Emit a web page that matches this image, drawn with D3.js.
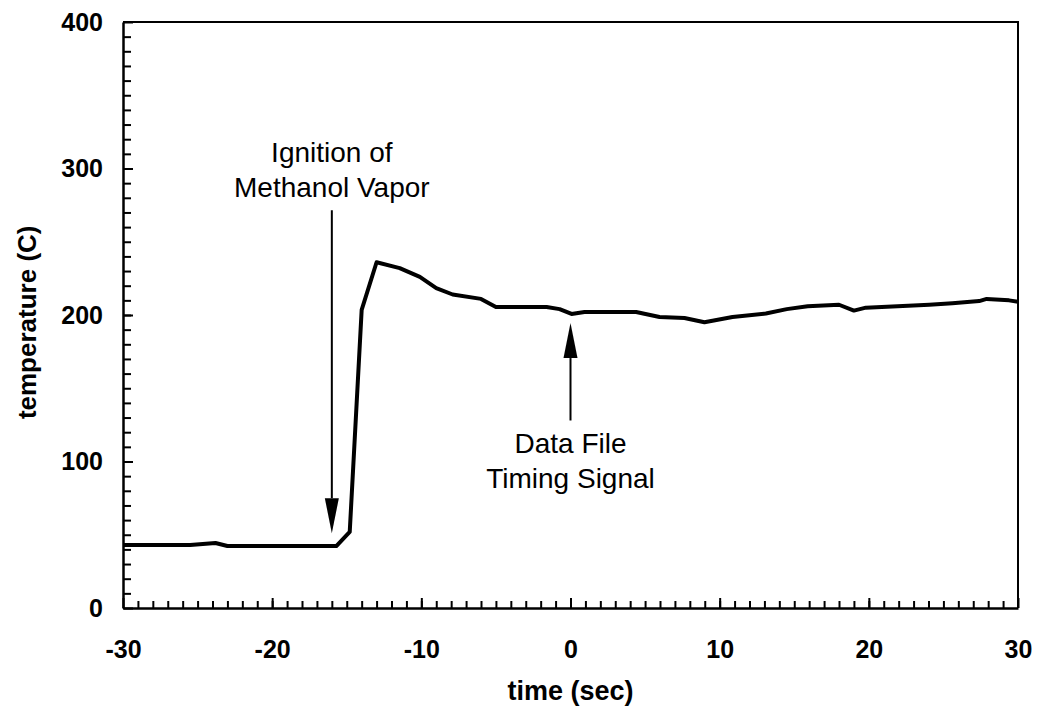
<!DOCTYPE html>
<html lang="en">
  <head>
    <meta charset="utf-8">
    <title>Temperature vs time</title>
    <script src="https://d3js.org/d3.v7.min.js"></script>
    <style>
      body { margin: 0; background: #fff; }
      text { font-family: "Liberation Sans", Arial, sans-serif; fill: #000; }
    </style>
  </head>
<body>

<script>
// data
var times = [-30, -25.5, -23.8, -23, -15.7, -14.8, -14, -13, -11.45, -10.1, -9, -7.9, -6, -5, -1.6, -0.73,
             0.07, 0.94, 4.4, 5.97, 7.64, 8.98, 10.86, 13.1, 14.5, 15.9, 18, 19, 19.8, 24.05, 25.6, 27.4,
             27.9, 29.4, 30];
var temps = [43, 43, 44.4, 42.3, 42.3, 52, 203.5, 236, 232, 226, 218.4, 214, 211, 205.5, 205.5, 204,
             200.7, 202, 202, 198.6, 198, 195, 198.6, 201, 204, 206, 207, 203, 205, 207, 208, 209.5,
             211, 210, 209];
var xTicks = [-30, -20, -10, 0, 10, 20, 30];
var yTicks = [0, 100, 200, 300, 400];
var notes = [
    {lines: ["Ignition of", "Methanol Vapor"], t: -16, from: 271.5, to: 51},
    {lines: ["Data File", "Timing Signal"], t: 0, from: 128, to: 194.5}
];

var W = 1040, H = 711;
var m = {left: 123, right: 22, top: 22, bottom: 103};

var svg = d3.select("body").append("svg")
    .attr("width", W)
    .attr("height", H);

var x = d3.scaleLinear().domain([-30, 30]).range([m.left, W - m.right]);
var y = d3.scaleLinear().domain([0, 400]).range([H - m.bottom, m.top]);

// frame (top and right)
svg.append("path")
    .attr("d", `M${x(-30)},${y(400)}H${x(30)}V${y(0)}`)
    .attr("fill", "none")
    .attr("stroke", "#000")
    .attr("stroke-width", 2);

// minor ticks
svg.append("g")
    .attr("transform", `translate(0,${y(0)})`)
    .call(d3.axisBottom(x).tickValues(d3.range(-29, 30, 1)).tickSize(-7).tickFormat(""))
    .call(g => g.select(".domain").remove())
    .call(g => g.selectAll("line").attr("stroke-width", 2));

svg.append("g")
    .attr("transform", `translate(${x(-30)},0)`)
    .call(d3.axisLeft(y).tickValues(d3.range(10, 400, 10)).tickSize(-8).tickFormat(""))
    .call(g => g.select(".domain").remove())
    .call(g => g.selectAll("line").attr("stroke-width", 2));

// major axes with labels (plain hyphen for negatives)
svg.append("g")
    .attr("transform", `translate(0,${y(0)})`)
    .call(d3.axisBottom(x).tickValues(xTicks).tickSize(-10).tickSizeOuter(0).tickPadding(32)
        .tickFormat(d => String(d)))
    .call(g => g.select(".domain").attr("stroke-width", 2.5))
    .call(g => g.selectAll("line").attr("stroke-width", 2))
    .call(g => g.selectAll("text").attr("font-size", 25).attr("font-weight", "bold")
        .attr("font-family", "Liberation Sans, Arial, sans-serif"));

svg.append("g")
    .attr("transform", `translate(${x(-30)},0)`)
    .call(d3.axisLeft(y).tickValues(yTicks).tickSize(-10).tickSizeOuter(0).tickPadding(20))
    .call(g => g.select(".domain").attr("stroke-width", 2.5))
    .call(g => g.selectAll("line").attr("stroke-width", 2))
    .call(g => g.selectAll("text").attr("font-size", 25).attr("font-weight", "bold")
        .attr("font-family", "Liberation Sans, Arial, sans-serif"));

// axis titles
svg.append("text")
    .attr("x", x(0))
    .attr("y", 700)
    .attr("text-anchor", "middle")
    .attr("font-size", 27)
    .attr("font-weight", "bold")
    .text("time (sec)");

svg.append("text")
    .attr("transform", `translate(36,${y(195)}) rotate(-90)`)
    .attr("text-anchor", "middle")
    .attr("font-size", 26)
    .attr("font-weight", "bold")
    .text("temperature (C)");

// trace
var line = d3.line()
    .x((d, i) => x(times[i]))
    .y(d => y(d));

svg.append("path")
    .datum(temps)
    .attr("d", line)
    .attr("fill", "none")
    .attr("stroke", "#000")
    .attr("stroke-width", 4)
    .attr("stroke-linejoin", "round");

// annotations with arrows
notes.forEach(n => {
    var ax = x(n.t), y0 = y(n.from), y1 = y(n.to);
    var dir = y1 > y0 ? 1 : -1;
    var headLen = 35, headW = 7;
    svg.append("line")
        .attr("x1", ax).attr("x2", ax)
        .attr("y1", y0).attr("y2", y1 - dir * headLen)
        .attr("stroke", "#000")
        .attr("stroke-width", 2);
    svg.append("path")
        .attr("d", `M${ax},${y1}L${ax - headW},${y1 - dir * headLen}L${ax + headW},${y1 - dir * headLen}Z`)
        .attr("fill", "#000");
    var base = dir > 0 ? y0 - 13 - 35 : y0 + 33;
    n.lines.forEach((t, i) => {
        svg.append("text")
            .attr("x", ax)
            .attr("y", base + i * 35)
            .attr("text-anchor", "middle")
            .attr("font-size", 28)
            .text(t);
    });
});
</script>
</body>
</html>
